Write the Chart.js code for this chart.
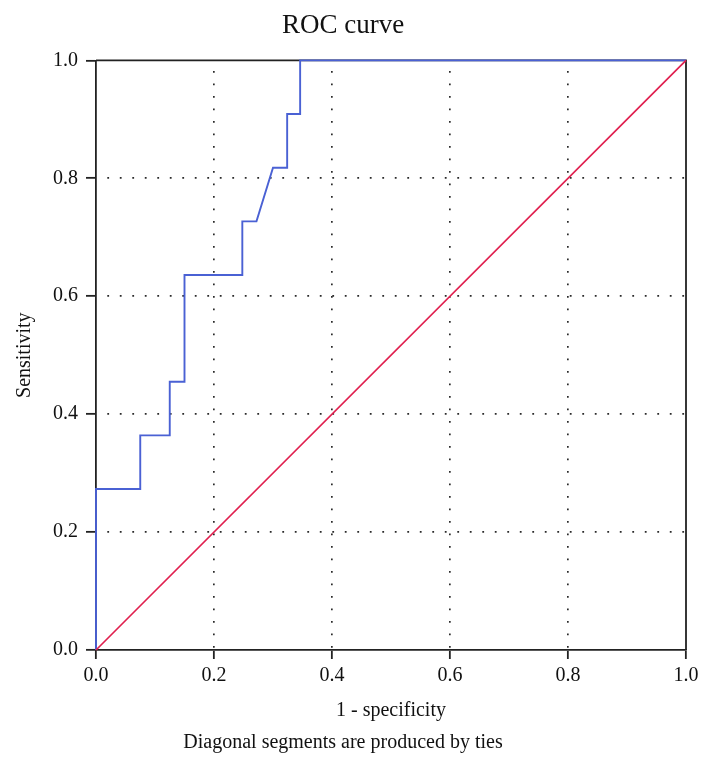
<!DOCTYPE html>
<html>
<head>
<meta charset="utf-8">
<title>ROC curve</title>
<script src="https://cdn.jsdelivr.net/npm/chart.js@4"></script>
<style>
  html, body { margin: 0; padding: 0; background: #fff; overflow: hidden; }
  #wrap { width: 712px; height: 769px; }
</style>
</head>
<body>
<div id="wrap"><canvas id="roc" width="712" height="769"></canvas></div>
<script>
// ---------- DATA ----------
const fpr = [0, 0, 0.075, 0.075, 0.125, 0.125, 0.15, 0.15, 0.248, 0.248, 0.272, 0.3, 0.324, 0.324, 0.346, 0.346, 1.0];
const tpr = [0, 0.273, 0.273, 0.364, 0.364, 0.455, 0.455, 0.636, 0.636, 0.727, 0.727, 0.818, 0.818, 0.909, 0.909, 1.0, 1.0];
const refX = [0, 1];
const refY = [0, 1];
const tickValues = [0, 0.2, 0.4, 0.6, 0.8, 1.0];

const FONT = "'Liberation Serif', 'DejaVu Serif', serif";
const INK = "#222";

// ---------- HELPERS ----------
const toPoints = (xs, ys) => xs.map((x, i) => ({ x, y: ys[i] }));

// grid is dotted inside the plot, but not on the frame itself
const gridColor = (ctx) =>
  ctx.tick && (ctx.tick.value === 0 || ctx.tick.value === 1) ? "rgba(0,0,0,0)" : "#2a2a2a";

// top + right edges of the box (left/bottom come from the axes)
const framePlugin = {
  id: "frame",
  beforeDatasetsDraw(chart) {
    const { ctx, chartArea: a } = chart;
    ctx.save();
    ctx.strokeStyle = INK;
    ctx.lineWidth = 1.8;
    ctx.beginPath();
    ctx.moveTo(a.left, a.top);
    ctx.lineTo(a.right, a.top);
    ctx.lineTo(a.right, a.bottom);
    ctx.stroke();
    ctx.restore();
  },
};

function axisOpts(title, tickLen, tickPad, titlePad, size) {
  return {
    type: "linear",
    min: 0,
    max: 1,
    afterBuildTicks: (scale) => {
      scale.ticks = tickValues.map((v) => ({ value: v }));
    },
    afterFit: size,
    ticks: {
      padding: tickPad,
      color: "#111",
      font: { family: FONT, size: 20 },
      callback: (v) => Number(v).toFixed(1),
      maxRotation: 0,
    },
    grid: {
      color: gridColor,
      lineWidth: 1.7,
      tickLength: tickLen,
      tickColor: INK,
      tickWidth: 1.8,
    },
    border: { color: INK, width: 1.8, dash: [1.8, 10.7], dashOffset: 2 },
    title: {
      display: true,
      text: title,
      color: "#111",
      font: { family: FONT, size: 20 },
      padding: titlePad,
    },
  };
}

// ---------- CHART ----------
new Chart(document.getElementById("roc"), {
  type: "line",
  data: {
    datasets: [
      {
        label: "Reference",
        data: toPoints(refX, refY),
        borderColor: "#e0204f",
        borderWidth: 1.7,
        pointRadius: 0,
        tension: 0,
        clip: false,
      },
      {
        label: "ROC",
        data: toPoints(fpr, tpr),
        borderColor: "#4a61d4",
        borderWidth: 1.9,
        pointRadius: 0,
        tension: 0,
        clip: false,
      },
    ],
  },
  options: {
    responsive: false,
    animation: false,
    layout: { padding: { left: 0, right: 26, top: 0, bottom: 0 } },
    plugins: {
      legend: { display: false },
      tooltip: { enabled: false },
      title: {
        display: true,
        text: "ROC curve",
        color: "#111",
        font: { family: FONT, size: 27, weight: "normal" },
        padding: { top: 10, bottom: 18 },
      },
      subtitle: {
        display: true,
        position: "bottom",
        text: "Diagonal segments are produced by ties",
        color: "#111",
        font: { family: FONT, size: 20, weight: "normal" },
        padding: { top: 1, bottom: 14 },
      },
    },
    scales: {
      x: {
        ...axisOpts("1 - specificity", 9, 5, { top: 0, bottom: 7 }, (s) => { s.height = 80; }),
        position: "bottom",
      },
      y: {
        ...axisOpts("Sensitivity", 10, 8, { top: 13, bottom: 0 }, (s) => { s.width = 96; }),
        position: "left",
      },
    },
  },
  plugins: [framePlugin],
});
</script>
</body>
</html>
